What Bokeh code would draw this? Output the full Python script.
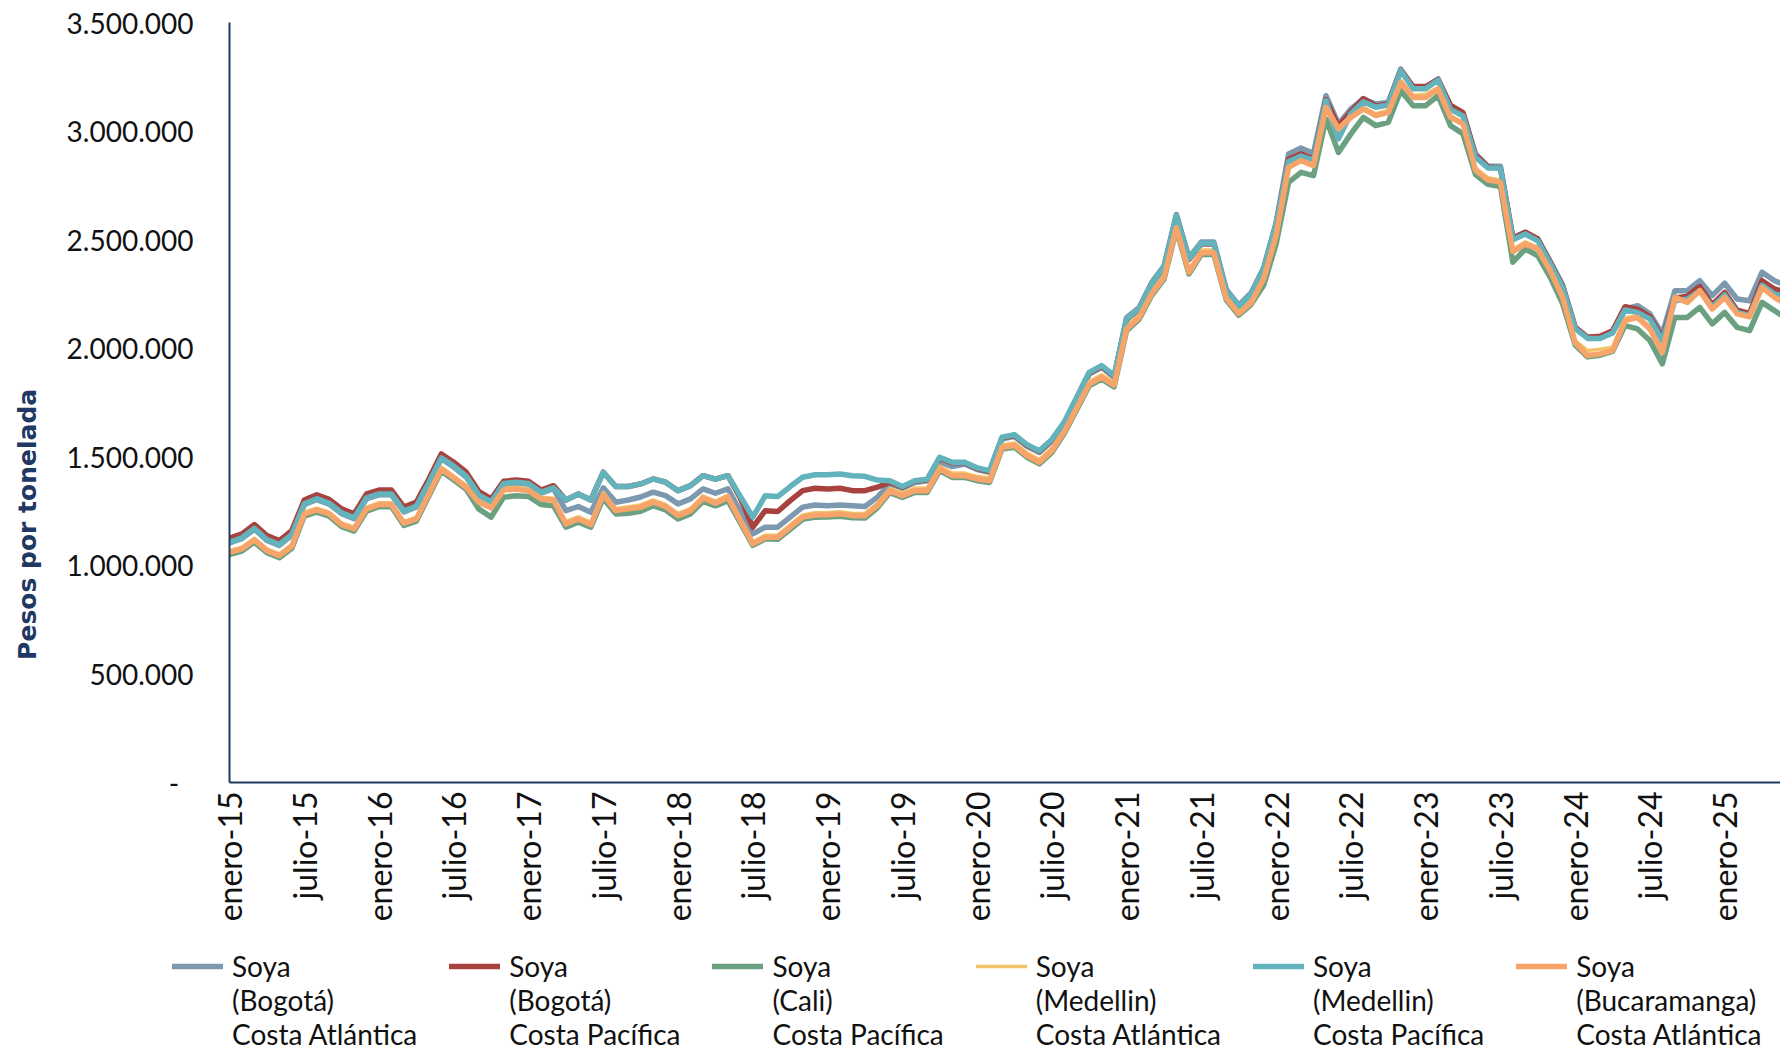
from bokeh.plotting import figure
from bokeh.models import FixedTicker, Legend, LegendItem, Range1d
from bokeh.embed import file_html
from bokeh.resources import INLINE
from math import pi

# Monthly index: 0 = enero-2015 ... 125 = junio-2025
tick_labels = ["enero-15", "julio-15", "enero-16", "julio-16", "enero-17", "julio-17",
               "enero-18", "julio-18", "enero-19", "julio-19", "enero-20", "julio-20",
               "enero-21", "julio-21", "enero-22", "julio-22", "enero-23", "julio-23",
               "enero-24", "julio-24", "enero-25"]
tick_months = [0, 6, 12, 18, 24, 30, 36, 42, 48, 54, 60, 66, 72, 78, 84, 90, 96, 102, 108, 114, 120]

y_ticks = [0, 500000, 1000000, 1500000, 2000000, 2500000, 3000000, 3500000]
y_tick_labels = ["-\u00a0\u00a0", "500.000", "1.000.000", "1.500.000", "2.000.000",
                 "2.500.000", "3.000.000", "3.500.000"]

y_title = "Pesos por tonelada"

series_names = ["Soya\n(Bogotá)\nCosta Atlántica", "Soya\n(Bogotá)\nCosta Pacífica",
                "Soya\n(Cali)\nCosta Pacífica", "Soya\n(Medellin)\nCosta Atlántica",
                "Soya\n(Medellin)\nCosta Pacífica", "Soya\n(Bucaramanga)\nCosta Atlántica"]

# values in miles de pesos por tonelada
bogota_ca = [1103,1123,1166,1115,1092,1138,1279,1303,1282,1238,1215,1307,1325,1325,1246,1269,1376,1491,1453,1407,1321,1288,1373,1379,1373,1333,1353,
             1252,1271,1245,1357,1291,1301,1315,1337,1321,1283,1306,1352,1332,1352,1248,1145,1176,1176,1222,1268,1278,1275,1278,1275,1271,1314,1375,
             1355,1382,1389,1476,1455,1467,1441,1428,1582,1594,1548,1520,1572,1652,1766,1881,1912,1866,2141,2187,2302,2379,2616,2417,2489,2489,2271,2198,2256,2371,2578,
             2894,2922,2897,3163,3033,3102,3148,3125,3132,3285,3201,3201,3240,3109,3079,2894,2838,2838,
             2510,2534,2503,2400,2290,2096,2050,2050,2073,2180,2196,2158,2066,2265,2265,2311,2242,2299,2227,2219,2350,2311,2286]
bogota_cp = [1125,1145,1188,1137,1114,1160,1301,1325,1304,1260,1237,1329,1347,1347,1268,1291,1398,1513,1475,1429,1341,1306,1387,1393,1387,1347,1367,
             1301,1329,1301,1429,1363,1363,1375,1398,1383,1344,1367,1413,1397,1413,1310,1176,1252,1248,1298,1344,1355,1352,1355,1344,1344,1360,1383,
             1360,1387,1394,1495,1472,1472,1446,1433,1587,1599,1553,1525,1577,1657,1771,1886,1917,1871,2132,2178,2293,2370,2607,2408,2480,2480,2262,2189,2247,2362,2569,
             2870,2895,2870,3145,3020,3090,3150,3115,3125,3280,3205,3205,3238,3118,3085,2890,2835,2830,
             2505,2534,2503,2396,2285,2096,2050,2055,2080,2191,2180,2145,2045,2230,2240,2284,2200,2257,2175,2160,2311,2273,2255]
cali_cp = [1050,1066,1107,1058,1035,1078,1227,1245,1227,1178,1158,1250,1270,1270,1184,1204,1319,1434,1393,1350,1260,1222,1314,1321,1317,1280,1275,
           1176,1199,1176,1309,1237,1240,1249,1275,1255,1214,1237,1295,1274,1298,1195,1092,1122,1120,1166,1212,1222,1223,1226,1219,1218,1265,1335,
           1313,1336,1336,1436,1405,1405,1390,1382,1536,1544,1498,1467,1520,1607,1717,1827,1858,1822,2081,2132,2242,2317,2547,2342,2432,2432,2222,2152,2202,2290,2480,
           2764,2810,2795,3056,2902,2987,3063,3025,3040,3186,3117,3117,3163,3025,2987,2800,2755,2745,
           2396,2457,2426,2326,2204,2015,1960,1968,1985,2104,2089,2035,1928,2142,2142,2188,2112,2165,2096,2081,2211,2173,2135]
medellin_ca = [1068,1084,1125,1076,1053,1096,1245,1263,1245,1196,1176,1268,1288,1288,1202,1222,1337,1452,1411,1368,1299,1273,1355,1360,1352,1314,1309,
               1201,1224,1198,1335,1262,1270,1278,1301,1281,1239,1262,1320,1296,1324,1216,1109,1139,1139,1186,1232,1242,1243,1247,1239,1239,1285,1354,
               1333,1356,1356,1456,1425,1425,1410,1402,1556,1564,1518,1487,1540,1627,1737,1847,1878,1842,2101,2152,2262,2337,2567,2362,2452,2452,2242,2172,2222,2332,2532,
               2845,2875,2850,3120,3015,3070,3110,3080,3095,3235,3165,3170,3200,3070,3040,2830,2785,2775,
               2455,2490,2465,2365,2245,2035,1989,1995,2005,2140,2150,2100,1995,2225,2220,2270,2190,2240,2165,2152,2290,2245,2210]
medellin_cp = [1107,1127,1170,1119,1096,1142,1283,1307,1286,1242,1219,1311,1329,1329,1250,1273,1380,1495,1457,1411,1325,1292,1377,1383,1377,1337,1357,
               1301,1329,1301,1429,1363,1363,1375,1398,1383,1344,1367,1413,1397,1413,1318,1222,1321,1317,1363,1406,1417,1417,1421,1413,1410,1393,1390,
               1363,1390,1397,1498,1475,1475,1449,1436,1590,1602,1556,1528,1580,1660,1774,1889,1920,1874,2135,2181,2296,2373,2610,2411,2483,2483,2265,2192,2250,2365,2572,
               2860,2885,2865,3140,2964,3080,3135,3110,3120,3278,3195,3195,3235,3100,3070,2880,2830,2830,
               2500,2526,2495,2390,2280,2090,2045,2045,2070,2176,2165,2135,2035,2219,2225,2265,2190,2245,2165,2150,2290,2250,2235]
bucaramanga_ca = [1060,1076,1117,1068,1045,1088,1237,1255,1237,1188,1168,1260,1280,1280,1194,1214,1329,1444,1403,1360,1291,1265,1347,1352,1344,1306,1301,
                  1191,1214,1188,1325,1252,1260,1268,1291,1271,1229,1252,1310,1286,1314,1206,1099,1129,1129,1176,1222,1232,1233,1237,1229,1229,1275,1344,
                  1321,1344,1344,1444,1413,1413,1398,1390,1544,1552,1506,1475,1528,1615,1725,1835,1866,1830,2089,2140,2250,2325,2555,2350,2440,2440,2230,2160,2210,2320,2520,
                  2833,2864,2841,3109,3010,3063,3102,3071,3086,3224,3155,3155,3194,3063,3033,2820,2775,2765,
                  2445,2480,2457,2357,2234,2025,1966,1974,1989,2127,2142,2089,1981,2234,2211,2265,2181,2234,2158,2145,2280,2234,2200]

all_series = [bogota_ca, bogota_cp, cali_cp, medellin_ca, medellin_cp, bucaramanga_ca]
colors = ["#7D99AF", "#A8423F", "#6BA181", "#F2C46A", "#62B3BC", "#F7A46B"]
widths = [5.5, 5.5, 5.5, 3.5, 5.5, 5.5]

FONT = "Lato"
NAVY = "#1F3A5F"

# ---------------- main chart ----------------
p = figure(width=1780, height=932, output_backend="svg", toolbar_location=None,
           x_range=Range1d(0, 124.48), y_range=Range1d(0, 3500000),
           min_border_left=229, min_border_right=0, min_border_top=22, min_border_bottom=150)
p.outline_line_color = None
p.grid.visible = False

for vals, c, w in zip(all_series, colors, widths):
    xs = list(range(len(vals)))
    ys = [v * 1000 for v in vals]
    p.line(xs, ys, line_color=c, line_width=w, line_join="round", line_cap="round")

yax = p.yaxis[0]
yax.ticker = FixedTicker(ticks=y_ticks)
yax.major_label_overrides = {t: l for t, l in zip(y_ticks, y_tick_labels)}
yax.axis_line_color = NAVY
yax.axis_line_width = 2
yax.major_tick_line_color = None
yax.major_tick_out = 0
yax.major_tick_in = 0
yax.minor_tick_line_color = None
yax.minor_tick_out = 0
yax.major_label_standoff = 36
yax.major_label_text_font = FONT
yax.major_label_text_font_size = "28px"
yax.major_label_text_color = "#111111"
# trailing no-break spaces push the (bottom-to-top) title below the frame centre, as in the reference
yax.axis_label = y_title + "\u00a0" * 28
yax.axis_label_standoff = 22
yax.axis_label_text_font = "DejaVu Sans"
yax.axis_label_text_font_size = "25px"
yax.axis_label_text_font_style = "bold"
yax.axis_label_text_color = "#1F3864"

xax = p.xaxis[0]
xax.ticker = FixedTicker(ticks=tick_months)
xax.major_label_overrides = {t: l for t, l in zip(tick_months, tick_labels)}
xax.major_label_orientation = pi / 2
xax.axis_line_color = NAVY
xax.axis_line_width = 2
xax.major_tick_line_color = None
xax.major_tick_out = 0
xax.major_tick_in = 0
xax.minor_tick_line_color = None
xax.minor_tick_out = 0
xax.major_label_standoff = 9
xax.major_label_text_font = FONT
xax.major_label_text_font_size = "32px"
xax.major_label_text_color = "#111111"

# ---------------- legend strip (same series, drawn out of view; only the legend shows) ----------------
lg = figure(width=1780, height=120, output_backend="svg", toolbar_location=None,
            x_axis_type=None, y_axis_type=None,
            x_range=Range1d(0, 124.48), y_range=Range1d(-2, -1),
            min_border_left=149, min_border_right=0, min_border_top=0, min_border_bottom=0)
lg.outline_line_color = None
proxies = []
for vals, c, w in zip(all_series, colors, widths):
    xs = list(range(len(vals)))
    ys = [v * 1000 for v in vals]
    proxies.append(lg.line(xs, ys, line_color=c, line_width=w, line_cap="round"))

# Bokeh centres the legend glyph on the label block; two leading empty lines put the
# block centre on the first visible line ("Soya"), as in the reference.
legend = Legend(items=[LegendItem(label="\n\n" + n, renderers=[r]) for n, r in zip(series_names, proxies)],
                orientation="horizontal", location=(23, 1),
                padding=0, margin=0, spacing=32, label_standoff=9,
                glyph_width=51, glyph_height=30,
                label_text_font=FONT, label_text_font_size="28px",
                label_text_line_height=1.04, label_text_color="#111111",
                border_line_alpha=0, background_fill_alpha=0)
lg.add_layout(legend, "center")

open("out.html", "w").write(file_html([p, lg], INLINE))
